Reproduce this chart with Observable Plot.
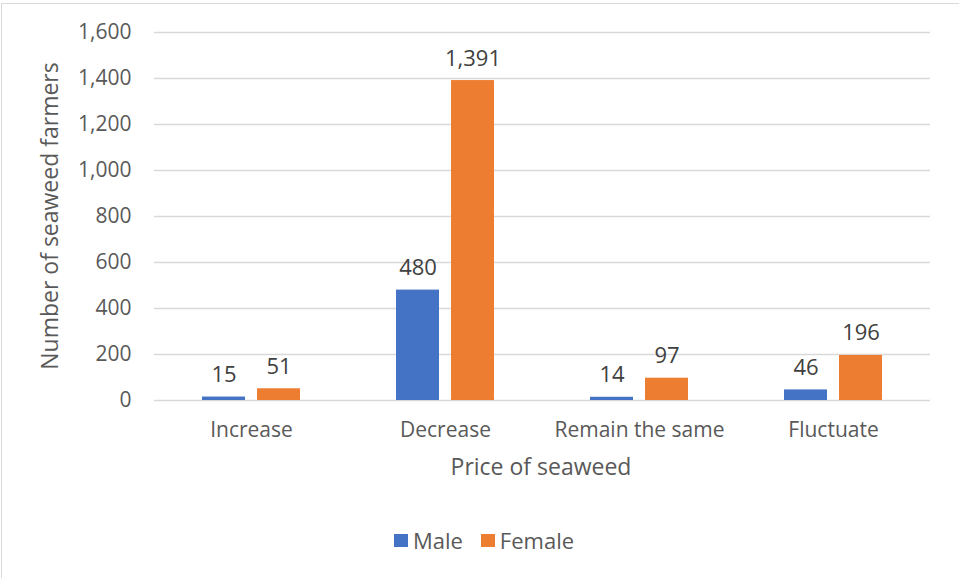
<!DOCTYPE html>
<html>
<head>
<meta charset="utf-8">
<script src="https://cdn.jsdelivr.net/npm/d3@7"></script>
<script src="https://cdn.jsdelivr.net/npm/@observablehq/plot@0.6"></script>
<style>
  html, body { margin: 0; padding: 0; background: #fff; }
  #chart { position: relative; width: 959px; height: 578px; overflow: hidden; font-family: "Open Sans", sans-serif; color: #595959; }
  #frame { position: absolute; left: 1px; top: 3px; width: 980px; height: 600px; border: 1px solid #d9d9d9; box-sizing: border-box; }
  #plot { position: absolute; left: 0; top: 0; }
  #legend { position: absolute; left: 0; top: 525px; width: 968px; display: flex; justify-content: center; align-items: center; font-size: 22px; color: #595959; }
  #legend .item { display: flex; align-items: center; margin: 0 9px; }
  #legend .swatch { width: 14px; height: 13px; margin-right: 5px; }
</style>
</head>
<body>
<div id="chart">
  <div id="frame"></div>
  <div id="plot"></div>
  <div id="legend"></div>
</div>
<script>
// Seaweed farmers' perception of seaweed price change, by gender
const categories = ["Increase", "Decrease", "Remain the same", "Fluctuate"];
const genders = ["Male", "Female"];
const colors = ["#4472C4", "#ED7D31"];
const male = [15, 480, 14, 46];
const female = [51, 1391, 97, 196];
const yTicks = [0, 200, 400, 600, 800, 1000, 1200, 1400, 1600];

const data = categories.flatMap((c, i) => [
  {category: c, gender: "Male", value: male[i]},
  {category: c, gender: "Female", value: female[i]}
]);

const fmt = d3.format(",");

const chart = Plot.plot({
  width: 959,
  height: 505,
  marginLeft: 152,
  marginRight: 28,
  marginTop: 32,
  marginBottom: 105,
  style: {fontFamily: "Open Sans, sans-serif", fontSize: "21px", color: "#595959", background: "transparent", overflow: "visible"},
  fx: {domain: categories, padding: 0, label: null},
  x: {domain: genders, paddingInner: 0.214, paddingOuter: 0.843, axis: null},
  y: {domain: [0, 1600], label: null},
  color: {domain: genders, range: colors},
  marks: [
    Plot.gridY(yTicks, {stroke: "#d9d9d9", strokeOpacity: 1, strokeWidth: 1.3}),
    Plot.axisY(yTicks, {tickFormat: fmt, tickSize: 0, tickPadding: 23, label: null, fill: "#595959", fontSize: 21}),
    Plot.axisFx({anchor: "bottom", tickSize: 0, tickPadding: 22, label: null, fill: "#595959", fontSize: 21}),
    Plot.barY(data, {fx: "category", x: "gender", y: "value", fill: "gender"}),
    Plot.text(data, {fx: "category", x: "gender", y: "value", text: d => fmt(d.value), lineAnchor: "bottom", dy: -15, fill: "#404040", fontSize: 22})
  ]
});
document.getElementById("plot").appendChild(chart);

// Axis titles
const svg = d3.select(chart);
svg.append("text")
  .attr("transform", "translate(52,216) rotate(-90)")
  .attr("text-anchor", "middle")
  .attr("dominant-baseline", "middle")
  .attr("fill", "#595959")
  .style("font-size", "23px")
  .text("Number of seaweed farmers");
svg.append("text")
  .attr("x", 541)
  .attr("y", 469)
  .attr("text-anchor", "middle")
  .attr("dominant-baseline", "middle")
  .attr("fill", "#595959")
  .style("font-size", "23px")
  .text("Price of seaweed");

// Legend
const legend = d3.select("#legend");
genders.forEach((g, i) => {
  const item = legend.append("div").attr("class", "item");
  item.append("div").attr("class", "swatch").style("background", colors[i]);
  item.append("span").text(g);
});
</script>
</body>
</html>
